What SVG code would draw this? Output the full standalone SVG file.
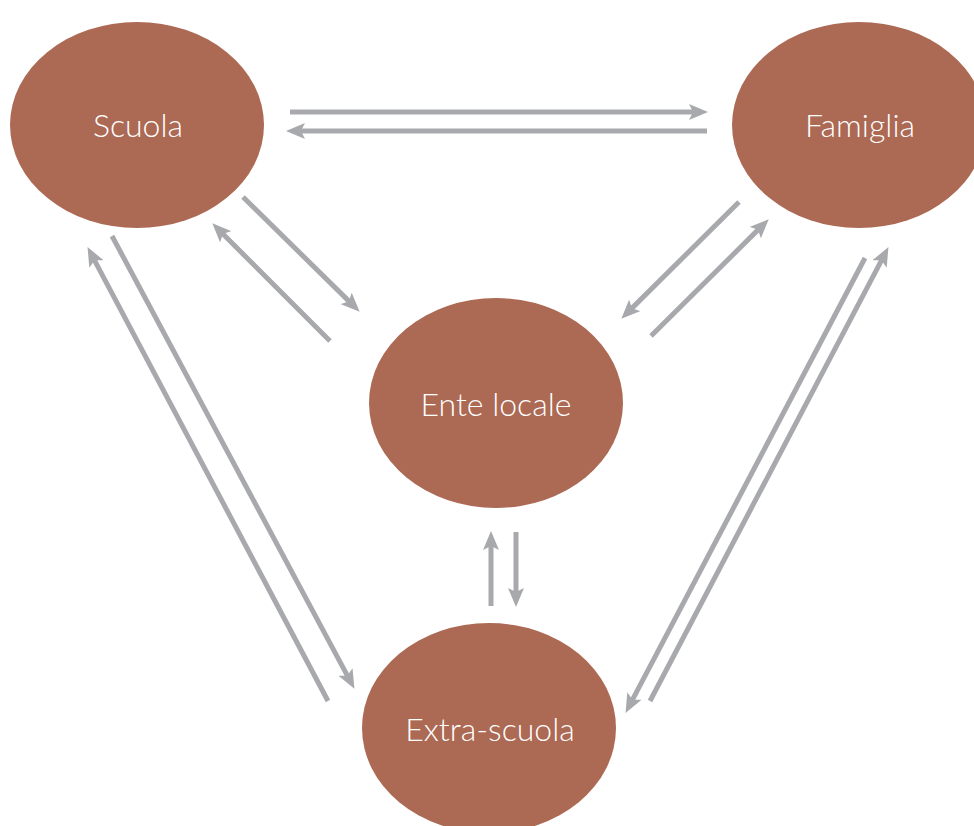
<svg xmlns="http://www.w3.org/2000/svg" width="974" height="826" viewBox="0 0 974 826">
<style>
.node{fill:#AC6953;}
.lbl{fill:#FFFFFF;font-family:Lato,"Open Sans","Liberation Sans",sans-serif;font-weight:300;font-size:32px;text-anchor:middle;}
.arr{stroke:#A8A9AD;stroke-width:5;fill:none;marker-end:url(#ah);}
</style>
<defs>
<marker id="ah" markerUnits="userSpaceOnUse" markerWidth="19" markerHeight="16" refX="6" refY="8" orient="auto" viewBox="0 0 19 16">
<path d="M0,0 L19,8 L0,16 L4,8 Z" fill="#A8A9AD"/>
</marker>
</defs>
<rect width="974" height="826" fill="#FFFFFF"/>
<g id="connectors">
<line class="arr" x1="290" y1="112" x2="695" y2="112"/>
<line class="arr" x1="707" y1="131" x2="299" y2="131"/>
<line class="arr" x1="243" y1="197" x2="350.4" y2="302.6"/>
<line class="arr" x1="330" y1="341" x2="221.5" y2="232.5"/>
<line class="arr" x1="739" y1="202" x2="630.5" y2="309.6"/>
<line class="arr" x1="651" y1="336" x2="759.5" y2="228.4"/>
<line class="arr" x1="491" y1="606" x2="491" y2="544"/>
<line class="arr" x1="516" y1="532" x2="516" y2="594"/>
<line class="arr" x1="112" y1="236" x2="348.3" y2="677.4"/>
<line class="arr" x1="328" y1="701" x2="93.6" y2="258.6"/>
<line class="arr" x1="865" y1="258" x2="631.6" y2="701.4"/>
<line class="arr" x1="650" y1="701" x2="882.4" y2="258.6"/>
</g>
<g id="scuola">
<ellipse class="node" cx="137" cy="125" rx="127" ry="103"/>
<text class="lbl" x="138" y="137">Scuola</text>
</g>
<g id="famiglia">
<ellipse class="node" cx="859" cy="125" rx="127" ry="103"/>
<text class="lbl" x="860" y="137">Famiglia</text>
</g>
<g id="ente-locale">
<ellipse class="node" cx="496" cy="403" rx="127" ry="105"/>
<text class="lbl" x="496" y="416">Ente locale</text>
</g>
<g id="extra-scuola">
<ellipse class="node" cx="489" cy="728" rx="127" ry="105"/>
<text class="lbl" x="490" y="741">Extra-scuola</text>
</g>
</svg>
